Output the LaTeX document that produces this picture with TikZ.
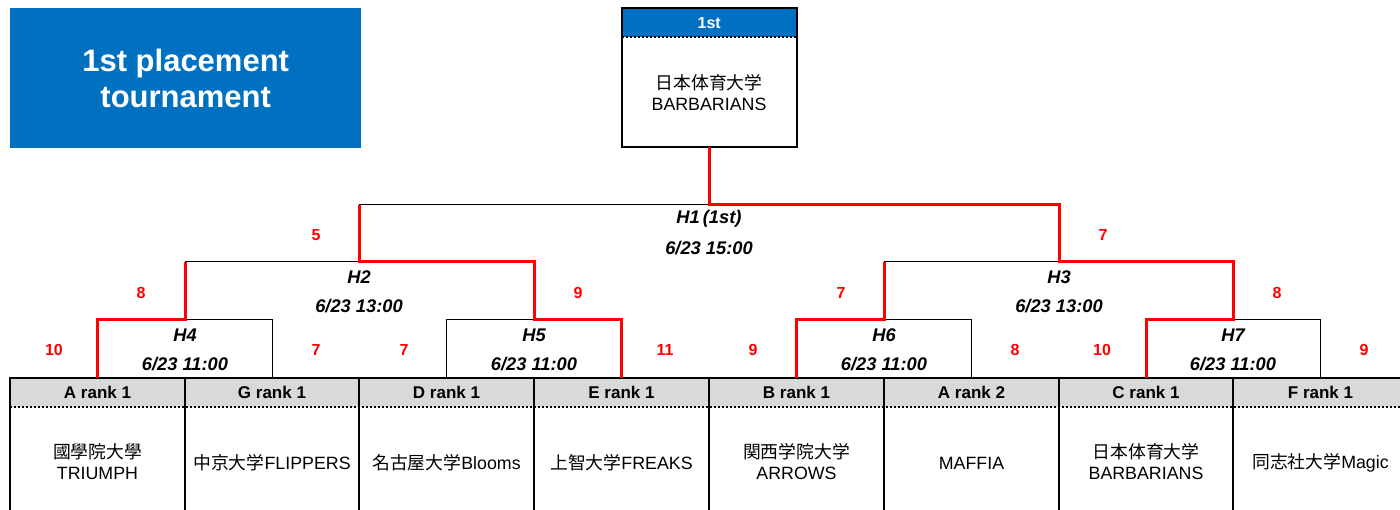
\documentclass[tikz,border=0pt]{standalone}
\usepackage{fontspec}
\setmainfont{Liberation Sans}
\newfontfamily\jp{Noto Sans CJK JP}
\definecolor{tblue}{HTML}{0070C0}
\definecolor{tgray}{HTML}{D9D9D9}
\begin{document}
\begin{tikzpicture}[x=1pt,y=-1pt,
  hdr/.style={fill=tgray, minimum width=174.5pt, minimum height=29pt, inner sep=0pt, font=\bfseries\fontsize{17}{20}\selectfont},
  team/.style={align=center, inner sep=0pt, font=\fontsize{17.8}{21}\selectfont},
  score/.style={text=red, inner sep=0pt, font=\bfseries\fontsize{16}{19}\selectfont},
  match/.style={inner sep=0pt, font=\bfseries\itshape\fontsize{18.3}{20}\selectfont},
  win/.style={draw=red, line width=3pt, line join=miter},
  lose/.style={draw=black, line width=1pt},
  frame/.style={draw=black, line width=2pt},
  dots/.style={draw=black, line width=1.6pt, dash pattern=on 2pt off 2pt}]
\useasboundingbox (0,0) rectangle (1400,510);
\fill[white] (0,0) rectangle (1400,510);

% title
\node[fill=tblue, minimum width=351pt, minimum height=140pt, inner sep=0pt, anchor=north west,
      text=white, align=center, font=\bfseries\fontsize{31}{36}\selectfont] (title) at (10,8)
      {1st placement\\tournament};

% top (winner) box
\node[fill=tblue, minimum width=174pt, minimum height=29pt, inner sep=0pt, anchor=north west,
      text=white, font=\bfseries\fontsize{16}{19}\selectfont] (tophdr) at (622,8) {1st};
\draw[frame] (622,8) rectangle (796.5,147);
\draw[dots] (622,37) -- (796.5,37);
\node[team] (topteam) at (709,93) {{\jp 日本体育大学}\\BARBARIANS};
\coordinate (topbot) at (709,147);

% table headers
\node[hdr] (h1) at (97.5,392.5) {A rank 1};
\node[hdr] (h2) at (272,392.5) {G rank 1};
\node[hdr] (h3) at (446.5,392.5) {D rank 1};
\node[hdr] (h4) at (621.5,392.5) {E rank 1};
\node[hdr] (h5) at (796.5,392.5) {B rank 1};
\node[hdr] (h6) at (971.5,392.5) {A rank 2};
\node[hdr] (h7) at (1146,392.5) {C rank 1};
\node[hdr] (h8) at (1320.5,392.5) {F rank 1};
\fill[tgray] (1408,378) rectangle (1400,407);
% table grid
\draw[frame] (10,378) -- (1400,378);
\draw[dots] (10,407) -- (1400,407);
\foreach \x in {10,185,359,534,709,884,1059,1233}
  \draw[frame] (\x,377) -- (\x,511);

% team names
\node[team] (t1) at (97.5,462) {{\jp 國學院大學}\\TRIUMPH};
\node[team] (t2) at (272,463) {{\jp 中京大学}FLIPPERS};
\node[team] (t3) at (446.5,463) {{\jp 名古屋大学}Blooms};
\node[team] (t4) at (621.5,463) {{\jp 上智大学}FREAKS};
\node[team] (t5) at (796.5,462) {{\jp 関西学院大学}\\ARROWS};
\node[team] (t6) at (971.5,463) {MAFFIA};
\node[team] (t7) at (1146,462) {{\jp 日本体育大学}\\BARBARIANS};
\node[team] (t8) at (1320.5,463) {{\jp 同志社大学}Magic};

% bracket coordinates
\coordinate (m4) at (185,320);
\coordinate (m5) at (534,320);
\coordinate (m6) at (884,320);
\coordinate (m7) at (1233,320);
\coordinate (m2) at (359,262);
\coordinate (m3) at (1059,262);
\coordinate (m1) at (709,205);

% losing-side lines (black)
\draw[lose] (m4) -| (h2.north);
\draw[lose] (h3.north) |- (m5);
\draw[lose] (m6) -| (h6.north);
\draw[lose] (m7) -| (h8.north);
\draw[lose] (m4 |- m2) -- (m2);
\draw[lose] (m6 |- m3) -- (m3);
\draw[lose] (m2 |- m1) -- (m1);

% winning path (red)
\draw[win] (h1.north) |- (m4) -- (m4 |- m2);
\draw[win] (h4.north) |- (m5) -- (m5 |- m2) -- (m2) -- (m2 |- m1);
\draw[win] (h5.north) |- (m6) -- (m6 |- m3);
\draw[win] (h7.north) |- (m7) -- (m7 |- m3) -- (m3) -- (m3 |- m1) -- (m1) -- (topbot);

% match labels
\node[match] (l1a) at (709,219) {H1\kern3pt(1st)};
\node[match] (l1b) at (709,248) {6/23 15:00};
\node[match] (l2a) at (359,277) {H2};
\node[match] (l2b) at (359,306) {6/23 13:00};
\node[match] (l3a) at (1059,277) {H3};
\node[match] (l3b) at (1059,306) {6/23 13:00};
\node[match] (l4a) at (185,335) {H4};
\node[match] (l4b) at (185,364) {6/23 11:00};
\node[match] (l5a) at (534,335) {H5};
\node[match] (l5b) at (534,364) {6/23 11:00};
\node[match] (l6a) at (884,335) {H6};
\node[match] (l6b) at (884,364) {6/23 11:00};
\node[match] (l7a) at (1233,335) {H7};
\node[match] (l7b) at (1233,364) {6/23 11:00};

% scores
\node[score] (s1) at (316,235) {5};
\node[score] (s2) at (1103,235) {7};
\node[score] (s3) at (141,293) {8};
\node[score] (s4) at (578,293) {9};
\node[score] (s5) at (841,293) {7};
\node[score] (s6) at (1277,293) {8};
\node[score] (s7) at (54,350) {10};
\node[score] (s8) at (316,350) {7};
\node[score] (s9) at (404,350) {7};
\node[score] (s10) at (665,350) {11};
\node[score] (s11) at (753,350) {9};
\node[score] (s12) at (1015,350) {8};
\node[score] (s13) at (1102,350) {10};
\node[score] (s14) at (1364,350) {9};
\end{tikzpicture}
\end{document}
